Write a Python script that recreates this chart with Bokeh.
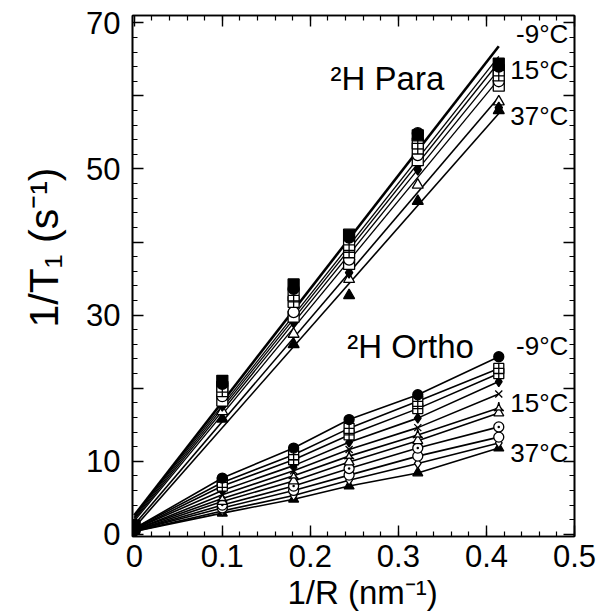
from bokeh.plotting import figure
from bokeh.models import FixedTicker, LinearAxis, Range1d, Label
from bokeh.embed import file_html
from bokeh.resources import INLINE

# ---------------- data ----------------
inv_r = [0.0, 0.100, 0.181, 0.244, 0.322, 0.414]

# 2H para : measured points (1/T1, s^-1)
para_filled_square = [1.2, 21.0, 34.2, 41.0, 54.6, 64.4]
para_filled_circle = [1.2, 20.6, 33.6, 40.6, 54.9, 64.0]
para_cross_sq_a = [1.1, 20.2, 32.7, 39.6, 53.5, 63.5]
para_cross_sq_b = [1.0, 19.6, 31.8, 38.6, 52.8, 62.8]
para_open_circle = [1.0, 18.9, 30.4, 37.6, 51.9, 62.0]
para_open_square = [0.9, 18.3, 29.8, 37.0, 51.2, 61.4]
para_filled_diamond = [0.9, 17.6, 29.0, 35.8, 49.9, 58.4]
para_open_triangle = [0.8, 16.8, 27.4, 34.9, 47.8, 59.2]
para_filled_triangle = [0.8, 15.8, 26.0, 32.7, 45.6, 58.0]

# 2H para : straight-line fits, value at 1/R = 0 and at 1/R = 0.414
para_fit_start = [2.6, 2.4, 2.2, 2.0, 1.8, 1.3, 0.9]
para_fit_end = [66.8, 65.4, 64.6, 63.6, 62.3, 59.8, 57.6]
para_fit_width = [2.6, 1.3, 1.3, 1.3, 1.3, 1.6, 1.6]

# 2H ortho : measured points (1/T1, s^-1)
ortho_filled_circle = [0.8, 7.7, 11.8, 15.7, 19.1, 24.3]
ortho_cross_sq_a = [0.8, 7.1, 10.9, 14.5, 18.2, 22.7]
ortho_cross_sq_b = [0.7, 6.6, 10.2, 13.6, 17.2, 22.0]
ortho_filled_diamond = [0.7, 6.0, 9.4, 12.6, 15.9, 20.9]
ortho_x = [0.6, 5.4, 8.7, 11.6, 14.6, 19.2]
ortho_triangle_pin = [0.6, 4.9, 8.0, 10.7, 13.6, 17.3]
ortho_open_triangle = [0.5, 4.5, 7.3, 9.9, 12.8, 16.6]
ortho_circle_dot = [0.5, 4.0, 6.6, 9.0, 11.8, 14.7]
ortho_open_circle = [0.5, 3.6, 6.0, 8.1, 10.7, 13.3]
ortho_open_diamond = [0.4, 3.2, 5.3, 7.4, 9.7, 12.5]
ortho_filled_triangle = [0.4, 2.9, 4.8, 6.6, 8.4, 11.8]

x_ticks = [0.0, 0.1, 0.2, 0.3, 0.4, 0.5]
x_tick_labels = ["0", "0.1", "0.2", "0.3", "0.4", "0.5"]
x_minor = [0.0, 0.02, 0.04, 0.06, 0.08, 0.1, 0.12, 0.14, 0.16, 0.18, 0.2, 0.22, 0.24,
           0.26, 0.28, 0.3, 0.32, 0.34, 0.36, 0.38, 0.4, 0.42, 0.44, 0.46, 0.48, 0.5]
y_ticks = [0, 10, 20, 30, 40, 50, 60, 70]
y_tick_labels = ["0", "10", "", "30", "", "50", "", "70"]
y_minor = list(range(0, 72, 2))

para_labels = ["-9°C", "15°C", "37°C"]
para_label_y = [68.5, 63.5, 57.3]
ortho_labels = ["-9°C", "15°C", "37°C"]
ortho_label_y = [25.8, 18.0, 11.1]

# ---------------- figure ----------------
FONT = "Liberation Sans"
NBSP = "\u00a0"
p = figure(width=605, height=615, output_backend="svg", toolbar_location=None,
           x_range=Range1d(-0.002, 0.5), y_range=Range1d(-0.3, 71.0),
           min_border_left=132, min_border_right=31, min_border_top=15, min_border_bottom=79)
p.grid.visible = False
p.outline_line_color = "black"
p.outline_line_width = 1.6
p.background_fill_color = "white"
p.border_fill_color = "white"

# para fits
for y0, y1, w in zip(para_fit_start, para_fit_end, para_fit_width):
    p.line([inv_r[0], inv_r[-1]], [y0, y1], line_color="black", line_width=w)

para_series = [
    (para_filled_square, "square", "black"),
    (para_filled_circle, "circle", "black"),
    (para_cross_sq_a, "square_cross", "white"),
    (para_cross_sq_b, "square_cross", "white"),
    (para_open_circle, "circle", "white"),
    (para_open_square, "square", "white"),
    (para_filled_diamond, "diamond", "black"),
    (para_open_triangle, "triangle", "white"),
    (para_filled_triangle, "triangle", "black"),
]
ortho_series = [
    (ortho_filled_circle, "circle", "black"),
    (ortho_cross_sq_a, "square_cross", "white"),
    (ortho_cross_sq_b, "square_cross", "white"),
    (ortho_filled_diamond, "diamond", "black"),
    (ortho_x, "x", "white"),
    (ortho_triangle_pin, "triangle_pin", "white"),
    (ortho_open_triangle, "triangle", "white"),
    (ortho_circle_dot, "circle_dot", "white"),
    (ortho_open_circle, "circle", "white"),
    (ortho_open_diamond, "diamond", "white"),
    (ortho_filled_triangle, "triangle", "black"),
]

for ys, _, _ in ortho_series:
    p.line(inv_r, ys, line_color="black", line_width=1.6)

for ys, mk, fc in ortho_series[::-1]:
    p.scatter(inv_r, ys, marker=mk, size=10, fill_color=fc, line_color="black", line_width=1.3)
for ys, mk, fc in para_series[::-1]:
    p.scatter(inv_r, ys, marker=mk, size=11, fill_color=fc, line_color="black", line_width=1.3)

# ---------------- axes ----------------
xt = FixedTicker(ticks=x_ticks, minor_ticks=x_minor)
yt = FixedTicker(ticks=y_ticks, minor_ticks=y_minor)

def style(ax, show):
    ax.major_tick_in = 11
    ax.major_tick_out = 0
    ax.minor_tick_in = 5
    ax.minor_tick_out = 0
    ax.major_tick_line_width = 1.4
    ax.minor_tick_line_width = 1.2
    ax.major_tick_line_color = "black"
    ax.minor_tick_line_color = "black"
    ax.axis_line_width = 1.6
    ax.axis_line_color = "black"
    ax.major_label_text_font = FONT
    ax.major_label_text_color = "black"
    ax.axis_label_text_font = FONT
    ax.axis_label_text_font_style = "normal"
    ax.axis_label_text_color = "black"
    if not show:
        ax.major_label_text_font_size = "0px"
        ax.major_label_standoff = 0

xa = p.xaxis[0]
xa.ticker = xt
xa.major_label_overrides = dict(zip(x_ticks, x_tick_labels))
style(xa, True)
xa.major_label_text_font_size = "31px"
xa.major_label_text_line_height = 1.0
xa.major_label_standoff = 8
xa.axis_label = NBSP * 2 + "1/R (nm⁻¹)"
xa.axis_label_text_font_size = "33px"
xa.axis_label_text_line_height = 1.0
xa.axis_label_standoff = 4

ya = p.yaxis[0]
ya.ticker = yt
ya.major_label_overrides = dict(zip(y_ticks, y_tick_labels))
style(ya, True)
ya.major_label_text_font_size = "31px"
ya.major_label_text_line_height = 1.0
ya.major_label_standoff = 12
ya.axis_label = NBSP * 5 + "1/T₁ (s⁻¹)"
ya.axis_label_text_font_size = "41px"
ya.axis_label_standoff = 16

top = LinearAxis(ticker=xt)
style(top, False)
top.major_label_overrides = {t: "" for t in x_ticks}
p.add_layout(top, "above")
right = LinearAxis(ticker=yt)
style(right, False)
right.major_label_overrides = {t: "" for t in y_ticks}
p.add_layout(right, "right")

# ---------------- annotations ----------------
p.add_layout(Label(x=0.223, y=62.4, text="²H Para", text_font=FONT, text_font_size="33px",
                   text_baseline="middle", text_align="left", text_color="black"))
p.add_layout(Label(x=0.242, y=25.7, text="²H Ortho", text_font=FONT, text_font_size="33px",
                   text_baseline="middle", text_align="left", text_color="black"))
for t, yv in zip(para_labels, para_label_y):
    p.add_layout(Label(x=0.493, y=yv, text=t, text_font=FONT, text_font_size="26px",
                       text_baseline="middle", text_align="right", text_color="black"))
for t, yv in zip(ortho_labels, ortho_label_y):
    p.add_layout(Label(x=0.493, y=yv, text=t, text_font=FONT, text_font_size="26px",
                       text_baseline="middle", text_align="right", text_color="black"))

open("out.html", "w").write(file_html(p, INLINE))
